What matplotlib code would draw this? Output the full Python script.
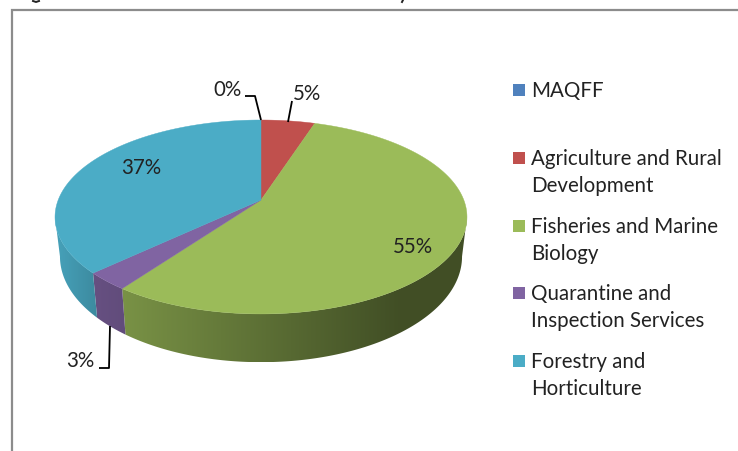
"""Tilted pie of the shares per department, drawn in pixel coordinates."""

from matplotlib import pyplot
from matplotlib.colors import LinearSegmentedColormap, to_rgb
from matplotlib.patches import Polygon
import numpy

labels = ['MAQFF', 'Agriculture and Rural\nDevelopment',
          'Fisheries and Marine\nBiology', 'Quarantine and\nInspection Services',
          'Forestry and\nHorticulture']
shares = [0, 5, 55, 3, 37]
share_labels = ['0%', '5%', '55%', '3%', '37%']
colors = ['#4f81bd', '#c0504d', '#9bbb59', '#8064a2', '#4bacc6']
# Darkening of the rim from the left to the right of each visible side.
rim_shades = [(1.0, 1.0), (1.0, 1.0), (0.78, 0.42), (0.8, 0.76), (0.94, 0.8)]
# Where the green side stops getting darker (pixels).
dark_from = 400.0

# Geometry of the pie (pixels), a circle seen in perspective.
cx, cy = 261.0, 200.0
rx, ry = 202.8, 94.0
persp = 0.175
rim_scale_x, rim_scale_y = 0.976, 1.09
rim_cy = 238.0


def top_face(theta):
    """Return pixel coordinates on the top rim; theta clockwise from north."""
    u, v = numpy.sin(theta), numpy.cos(theta)
    w = 1.0 + persp * v
    return rx * u / w, -ry * v / w


def rim_points(theta):
    """Return the points of the upper and of the lower edge of the side."""
    dx, dy = top_face(theta)
    return cx + dx, cy + dy, cx + rim_scale_x * dx, rim_cy + rim_scale_y * dy


pyplot.rc('font', family='Lato', size=14.8)

fig = pyplot.figure(figsize=(7.38, 4.51), dpi=100)
ax = fig.add_axes([0, 0, 1, 1])
ax.axis('off')

# Chart frame, running off the picture on the right and at the bottom.
ax.plot([12, 12, 745], [460, 10, 10], color='#8c8c8c', linewidth=1.6,
        solid_joinstyle='miter')

# What is left of the caption above the frame: two descender stubs.
ax.plot([33, 36, 39], [1, 2, 1], color='#222222', linewidth=1.4)
ax.plot([402, 403], [2, 0], color='#222222', linewidth=1.4)

edges = numpy.radians(numpy.cumsum([0] + shares) * 360.0 / sum(shares))

# The side shows between the two widest points of the rim.
front_start = numpy.arccos(-persp)
front_end = 2.0 * numpy.pi - front_start

# Side of the pie: a horizontal gradient clipped to the side of each slice.
for i, color in enumerate(colors):
    start, end = max(edges[i], front_start), min(edges[i + 1], front_end)
    if shares[i] == 0 or start >= end:
        continue
    thetas = numpy.linspace(start, end, 200)
    x1, y1, x2, y2 = rim_points(thetas)
    xs = numpy.r_[x1, x2[::-1]]
    ys = numpy.r_[y1, y2[::-1]]
    base = numpy.array(to_rgb(color))
    left, right = xs.min(), min(xs.max(), dark_from) if i == 2 else xs.max()
    shade = numpy.interp(numpy.linspace(xs.min(), xs.max(), 256),
                         [left, right], rim_shades[i])
    ramp = LinearSegmentedColormap.from_list(
        f'rim{i}', [tuple(base * s) for s in shade])
    image = ax.imshow(numpy.linspace(0, 1, 256)[None, :], cmap=ramp,
                      extent=(xs.min(), xs.max(), ys.max(), ys.min()),
                      aspect='auto', interpolation='bilinear', zorder=2)
    patch = Polygon(numpy.c_[xs, ys], closed=True, transform=ax.transData,
                    facecolor='none', edgecolor='none')
    ax.add_patch(patch)
    image.set_clip_path(patch)

# Top face of the pie.
for i, color in enumerate(colors):
    if shares[i] == 0:
        continue
    thetas = numpy.linspace(edges[i], edges[i + 1], 200)
    dx, dy = top_face(thetas)
    ax.fill(numpy.r_[cx, cx + dx], numpy.r_[cy, cy + dy], color=color,
            linewidth=0.3, zorder=3)

# Value labels inside the pie.
ax.text(141, 168, share_labels[4], ha='center', va='center', color='#222222',
        zorder=5)
ax.text(413, 247, share_labels[2], ha='center', va='center', color='#222222',
        zorder=5)

# Value labels with a leader line.
leader = dict(color='black', linewidth=1.3, zorder=5, solid_capstyle='butt')
ax.text(227, 90, share_labels[0], ha='center', va='center', color='#222222')
ax.plot([245, 255, 261], [96, 96, 120], **leader)
ax.text(307, 94, share_labels[1], ha='center', va='center', color='#222222')
ax.plot([292, 288], [101, 122], **leader)
ax.text(80, 361, share_labels[3], ha='center', va='center', color='#222222')
ax.plot([99, 109, 110], [368, 368, 326], **leader)

# Legend, one square marker and one text block per slice.
legend_y = [90, 158, 226, 293, 361]
for label, color, y in zip(labels, colors, legend_y):
    ax.scatter([519], [y], marker='s', s=75, color=color, linewidth=0, zorder=5)
    ax.text(531, y - 9, label, ha='left', va='top', color='#222222',
            linespacing=1.46)

ax.set_xlim(0, 738)
ax.set_ylim(451, 0)
fig.savefig('out.png', dpi=100)
